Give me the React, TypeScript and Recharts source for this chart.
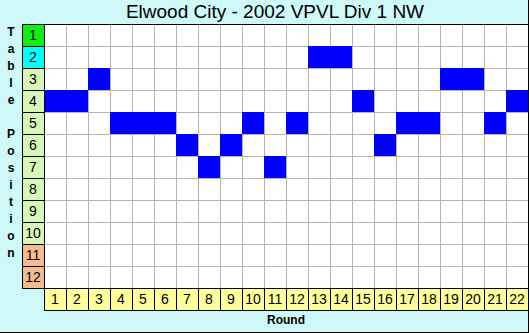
import { ComposedChart, Bar, XAxis, YAxis, CartesianGrid, ReferenceLine } from "recharts";

const rounds = [1, 2, 3, 4, 5, 6, 7, 8, 9, 10, 11, 12, 13, 14, 15, 16, 17, 18, 19, 20, 21, 22];
const positions = [4, 4, 3, 5, 5, 5, 6, 7, 6, 5, 7, 5, 2, 2, 4, 6, 5, 5, 3, 3, 5, 4];
const tablePositions = [1, 2, 3, 4, 5, 6, 7, 8, 9, 10, 11, 12];
const title = "Elwood City - 2002 VPVL Div 1 NW";
const yTitle = "Table Position";
const xTitle = "Round";

const FONT = 'Arial, "Liberation Sans", sans-serif';

const chartData = rounds.map((r, i) => ({
  round: r,
  cell: [positions[i] - 0.5, positions[i] + 0.5],
}));

const positionColor = (p: number) => {
  if (p === 1) return "#11ee11";
  if (p === 2) return "#00ffff";
  if (p >= 11) return "#f6bc8e";
  return "#d8f6b8";
};

const PositionTick = (props: any) => {
  const { x, y, payload } = props;
  const p = payload.value;
  return (
    <g>
      <rect x={x - 22 + 0.5} y={y - 11 + 0.5} width={22} height={22} fill={positionColor(p)} stroke="#000" />
      <text x={x - 11} y={y + 5} textAnchor="middle" fontSize={14} fontFamily={FONT} fill="#000">
        {p}
      </text>
    </g>
  );
};

const RoundTick = (props: any) => {
  const { x, y, payload } = props;
  return (
    <g>
      <rect x={x - 11 + 0.5} y={y + 0.5} width={22} height={22} fill="#ffff99" stroke="#000" />
      <text x={x} y={y + 16} textAnchor="middle" fontSize={14} fontFamily={FONT} fill="#000">
        {payload.value}
      </text>
    </g>
  );
};

const vGrid = ({ offset }: any) =>
  rounds.slice(1).map((_, i) => offset.left + ((i + 1) * offset.width) / rounds.length + 0.5);
const hGrid = ({ offset }: any) =>
  tablePositions.slice(1).map((_, i) => offset.top + ((i + 1) * offset.height) / tablePositions.length + 0.5);

export default function App() {
  return (
    <div
      style={{
        position: "relative",
        width: 529,
        height: 333,
        background: "#cff8f8",
        fontFamily: FONT,
      }}
    >
      <style>{`body{margin:0}`}</style>
      <div
        style={{
          position: "absolute",
          left: 22,
          width: 506,
          top: 0,
          height: 24,
          lineHeight: "24px",
          fontSize: 19,
          textAlign: "center",
          color: "#000",
        }}
      >
        {title}
      </div>
      <div
        style={{
          position: "absolute",
          left: 0,
          top: 24,
          width: 22,
          fontSize: 12,
          fontWeight: "bold",
          lineHeight: "17px",
          textAlign: "center",
        }}
      >
        {yTitle.split("").map((ch, i) => (
          <div key={i} style={{ height: 17 }}>
            {ch === " " ? "\u00a0" : ch}
          </div>
        ))}
      </div>
      <div
        style={{
          position: "absolute",
          left: 44,
          width: 484,
          top: 313,
          lineHeight: "15px",
          fontSize: 12,
          fontWeight: "bold",
          textAlign: "center",
        }}
      >
        {xTitle}
      </div>
      <div style={{ position: "absolute", left: 0, top: 0 }}>
        <ComposedChart
          width={529}
          height={333}
          data={chartData}
          barCategoryGap={0}
          barGap={0}
          margin={{ top: 24, right: 1, bottom: 0, left: 0 }}
        >
          <CartesianGrid
            fill="#ffffff"
            stroke="#bab2a6"
            verticalCoordinatesGenerator={vGrid}
            horizontalCoordinatesGenerator={hGrid}
          />
          <XAxis
            type="number"
            dataKey="round"
            domain={[0.5, 22.5]}
            ticks={rounds}
            interval={0}
            height={45}
            axisLine={false}
            tickLine={false}
            tickSize={0}
            tickMargin={0}
            tick={<RoundTick />}
          />
          <YAxis
            type="number"
            domain={[0.5, 12.5]}
            reversed
            ticks={tablePositions}
            interval={0}
            width={44}
            axisLine={false}
            tickLine={false}
            tickSize={0}
            tickMargin={0}
            tick={<PositionTick />}
          />
          <ReferenceLine y={0.5} stroke="#000" shapeRendering="crispEdges" />
          <Bar dataKey="cell" fill="#0000ff" isAnimationActive={false} />
        </ComposedChart>
      </div>
      <div
        style={{
          position: "absolute",
          left: 0,
          top: 0,
          width: 529,
          height: 333,
          boxSizing: "border-box",
          borderRight: "1px solid #000",
          borderBottom: "1px solid #000",
          pointerEvents: "none",
        }}
      />
    </div>
  );
}
